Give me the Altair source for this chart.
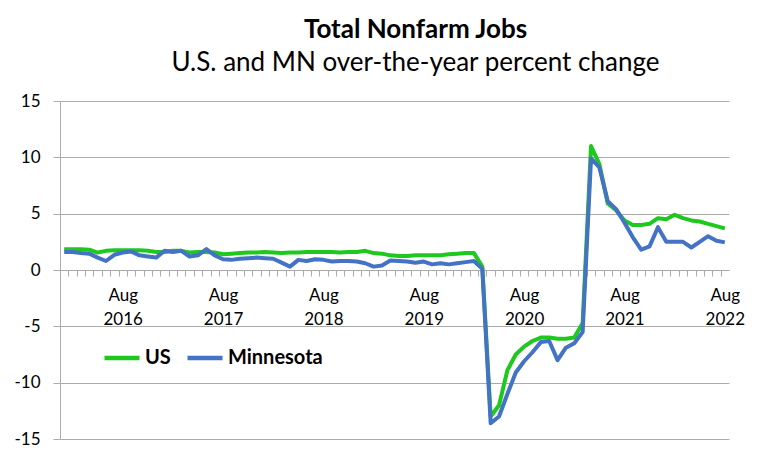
import altair as alt
import pandas as pd

month_names = ["Jan", "Feb", "Mar", "Apr", "May", "Jun",
               "Jul", "Aug", "Sep", "Oct", "Nov", "Dec"]
years = [2016, 2017, 2018, 2019, 2020, 2021, 2022]
last_month_2022 = 8

series_names = ["US", "Minnesota"]

us_values = [
    1.85, 1.85, 1.85, 1.8, 1.55, 1.7, 1.75, 1.75, 1.75, 1.75, 1.7, 1.6,      # 2016
    1.6, 1.7, 1.7, 1.55, 1.6, 1.6, 1.55, 1.4, 1.45, 1.5, 1.55, 1.55,         # 2017
    1.6, 1.55, 1.5, 1.55, 1.55, 1.6, 1.6, 1.6, 1.6, 1.55, 1.6, 1.6,          # 2018
    1.7, 1.5, 1.45, 1.3, 1.25, 1.25, 1.3, 1.3, 1.3, 1.3, 1.4, 1.45,          # 2019
    1.5, 1.5, 0.3, -13.0, -12.0, -8.9, -7.5, -6.8, -6.3, -6.0, -6.0, -6.1,   # 2020
    -6.1, -6.0, -4.7, 11.0, 9.4, 5.9, 5.3, 4.4, 4.0, 4.0, 4.1, 4.6,          # 2021
    4.5, 4.9, 4.6, 4.4, 4.3, 4.1, 3.9, 3.7,                                  # 2022
]

mn_values = [
    1.6, 1.6, 1.5, 1.45, 1.1, 0.8, 1.35, 1.55, 1.65, 1.3, 1.2, 1.1,          # 2016
    1.7, 1.6, 1.7, 1.2, 1.3, 1.85, 1.3, 0.95, 0.9, 1.0, 1.05, 1.1,           # 2017
    1.05, 1.0, 0.65, 0.3, 0.9, 0.8, 0.95, 0.9, 0.75, 0.8, 0.8, 0.75,         # 2018
    0.6, 0.3, 0.4, 0.85, 0.8, 0.75, 0.65, 0.75, 0.5, 0.6, 0.5, 0.6,          # 2019
    0.7, 0.8, 0.1, -13.6, -13.0, -11.0, -9.1, -8.1, -7.3, -6.4, -6.3, -8.0,  # 2020
    -6.9, -6.5, -5.5, 9.9, 9.1, 6.1, 5.4, 4.2, 2.9, 1.8, 2.1, 3.8,           # 2021
    2.5, 2.5, 2.5, 2.0, 2.5, 3.0, 2.6, 2.45,                                 # 2022
]

y_ticks = [-15, -10, -5, 0, 5, 10, 15]

periods = []
for yr in years:
    for mi, m in enumerate(month_names):
        if yr == years[-1] and mi >= last_month_2022:
            break
        periods.append(f"{m} {yr}")

rows = []
for p, v in zip(periods, us_values):
    rows.append({"period": p, "series": "US", "value": v})
for p, v in zip(periods, mn_values):
    rows.append({"period": p, "series": "Minnesota", "value": v})
df = pd.DataFrame(rows)

FONT = "Lato"
GRID = "#ABABAB"
PLOT_W = 669
PLOT_H = 338
half_step = PLOT_W / len(periods) / 2

x_enc = alt.X(
    "period:O",
    sort=periods,
    scale=alt.Scale(type="point", padding=0.5),
    axis=alt.Axis(
        title=None,
        offset=-169,
        tickOffset=-half_step,
        labelOffset=half_step,
        tickSize=6,
        tickColor=GRID,
        domainColor=GRID,
        labelAngle=0,
        labelPadding=11,
        labelFontSize=17,
        labelLineHeight=24,
        labelFont=FONT,
        labelColor="#000000",
        labelExpr="indexof(datum.value, 'Aug') === 0 ? split(datum.value, ' ') : ''",
        grid=False,
    ),
)

y_enc = alt.Y(
    "value:Q",
    scale=alt.Scale(domain=[-15, 15], nice=False, zero=False),
    axis=alt.Axis(
        title=None,
        values=y_ticks,
        grid=True,
        gridColor=GRID,
        tickSize=7,
        tickColor=GRID,
        domainColor=GRID,
        labelPadding=13,
        labelFontSize=17,
        labelFont=FONT,
        labelColor="#000000",
        labelExpr="'' + datum.value",
    ),
)

color_enc = alt.Color(
    "series:N",
    sort=series_names,
    scale=alt.Scale(domain=series_names, range=["#1EC81E", "#4472C4"]),
    legend=alt.Legend(
        title=None,
        orient="none",
        legendX=42,
        legendY=237,
        direction="horizontal",
        symbolType="stroke",
        symbolSize=1225,
        symbolStrokeWidth=4.5,
        labelFontSize=20,
        labelFontWeight="bold",
        labelFont=FONT,
        labelColor="#000000",
        labelOffset=3,
        columnPadding=7,
        padding=0,
    ),
)

chart = alt.Chart(df).mark_line(strokeWidth=4, strokeJoin="round").encode(
    x=x_enc, y=y_enc, color=color_enc
).properties(
    width=PLOT_W,
    height=PLOT_H,
    autosize=alt.AutoSizeParams(type="none"),
    padding={"left": 52, "top": 93, "right": 20, "bottom": 15},
    title=alt.TitleParams(
        text="Total Nonfarm Jobs",
        subtitle="U.S. and MN over-the-year percent change",
        anchor="middle",
        frame="group",
        dx=21,
        font=FONT,
        fontSize=26,
        fontWeight="bold",
        color="#000000",
        subtitleFont=FONT,
        subtitleFontSize=26,
        subtitleColor="#000000",
        subtitlePadding=7,
        offset=16,
    ),
).configure(background="white").configure_view(stroke=None)

chart.save("out.html", embed_options={"renderer": "svg", "actions": False})
